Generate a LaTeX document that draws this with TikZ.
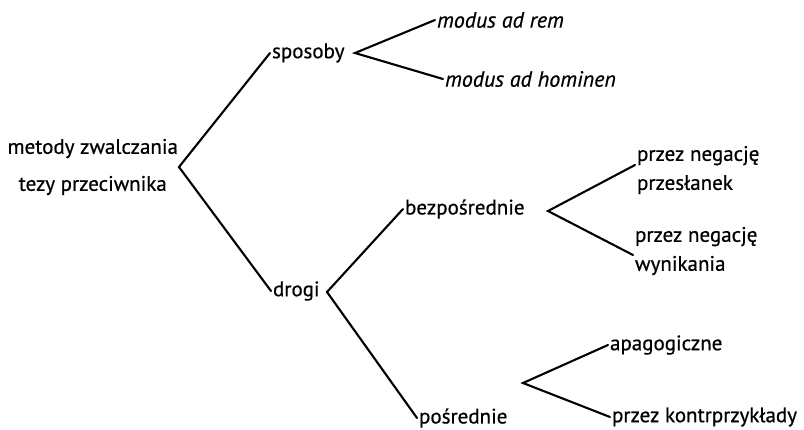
\documentclass[tikz,border=0pt]{standalone}
\usepackage{fontspec}
\setmainfont{PT Sans}[FakeBold=0.6]
\usetikzlibrary{positioning}

\begin{document}
\begin{tikzpicture}[x=1pt,y=-1pt,font=\fontsize{21}{25}\selectfont,line width=2.1pt]

		\tikzset{leaf/.style={inner sep=1pt, anchor=west}}
		\tikzset{twoline/.style={leaf, align=left, font=\fontsize{21}{29}\selectfont}}
		\tikzset{modus/.style={leaf, font=\fontsize{22}{25}\selectfont\itshape}}
		\tikzset{branch/.style={draw=black, line cap=round, line join=miter}}

	\useasboundingbox (0,0) rectangle (804,429);

	\node[inner sep=0pt, anchor=east, align=center, font=\fontsize{21}{37}\selectfont] (root) at (179,167) {metody zwalczania\\tezy przeciwnika};

	\node[leaf] (sposoby) at (270,53) {sposoby};
	\node[leaf] (drogi) at (271,291) {drogi};

	\node[modus] (rem) at (435,20) {modus ad rem};
	\node[modus] (hominen) at (443,79) {modus ad hominen};

	\node[leaf] (bezp) at (403,209) {bezpośrednie};
	\node[leaf] (posr) at (417,418) {pośrednie};

	\node[twoline] (negprzes) at (635,170) {przez negację\\przesłanek};
	\node[twoline] (negwyn) at (633,251) {przez negację\\wynikania};

	\node[leaf] (apag) at (608,345) {apagogiczne};
	\node[leaf] (kontr) at (610,417) {przez kontrprzykłady};

	\coordinate (sposoby-v) at (355,53);
	\coordinate (drogi-v) at (327,292);
	\coordinate (bezp-v) at (548,211);
	\coordinate (posr-v) at (523,383);

	\draw[branch]
	(sposoby.west) -- (root.east) -- (drogi.west)
	(rem.west) -- (sposoby-v) -- (hominen.west)
	(bezp.west) -- (drogi-v) -- (posr.west)
	([yshift=5pt]negprzes.west) -- (bezp-v) -- ([yshift=-4pt]negwyn.west)
	(apag.west) -- (posr-v) -- (kontr.west);
	\end{tikzpicture}
\end{document}
